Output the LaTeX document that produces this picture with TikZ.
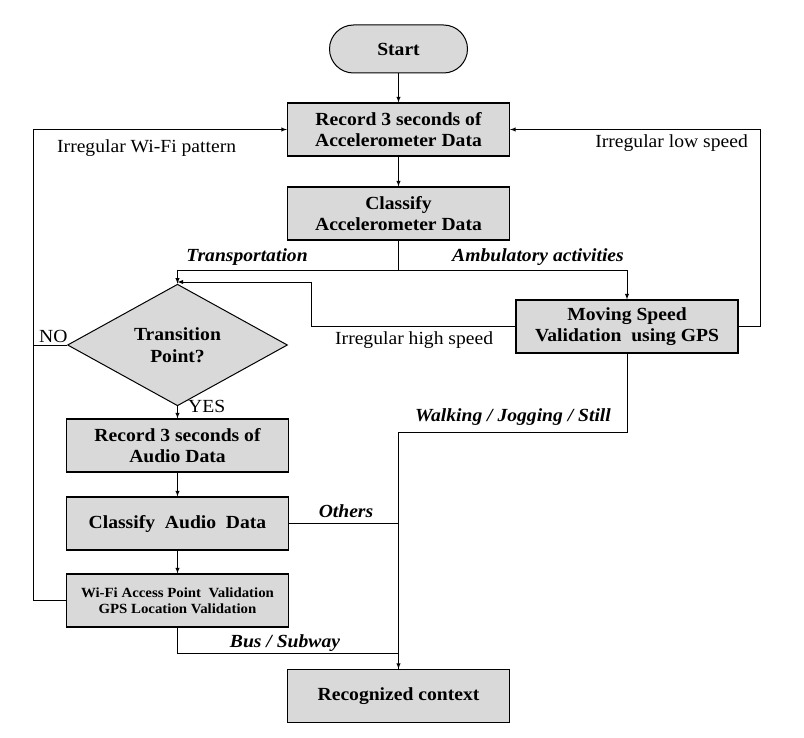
\documentclass[tikz,border=0pt]{standalone}
\usepackage{fontspec}
\setmainfont{Liberation Serif}[FakeStretch=1.06]
\usetikzlibrary{shapes.geometric,arrows}
\newcommand\BoxFont{\fontsize{18.5}{21.7}\selectfont\bfseries}
\newcommand\SmallBoxFont{\fontsize{14}{15.5}\selectfont\bfseries}
\newcommand\LabelFont{\fontsize{18.5}{21}\selectfont}
\tikzset{%
    >=latex, % option for nice arrows
    process box/.style={draw,line width=1.2pt,fill=gray!30,align=center,
        minimum width=222pt,minimum height=53pt,inner sep=0pt,font=\BoxFont},%
    start box/.style={draw,line width=1pt,fill=gray!30,rounded corners=24pt,
        minimum width=138pt,minimum height=48pt,inner sep=0pt,font=\BoxFont},%
    decision box/.style={draw,line width=1pt,fill=gray!30,diamond,align=center,
        minimum width=220pt,minimum height=88pt,inner sep=0pt,font=\BoxFont},%
    flow line/.style={line width=0.9pt},%
    plain label/.style={inner sep=0pt,font=\LabelFont},%
    branch label/.style={inner sep=0pt,font=\LabelFont\bfseries\itshape}%
}
\begin{document}
\begin{tikzpicture}[x=1pt,y=-1pt] % pixel grid, y grows downwards

    \useasboundingbox (0,0) rectangle (804,738);
    \def\colMain{398.5} % centre column
    \def\colLeft{177.5} % audio column
    \def\colRight{627} % GPS column

    % the boxes
    \node[start box] (Start) at (\colMain,49) {Start};
    \node[process box] (RecAcc) at (\colMain,129.5) {Record 3 seconds of\\Accelerometer Data};
    \node[process box] (ClsAcc) at (\colMain,213.5) {Classify\\Accelerometer Data};
    \node[process box] (Speed) at (\colRight,326.5) {Moving Speed\\Validation\ \ using GPS};
    \node[decision box] (Trans) at (\colLeft,345) {Transition\\Point?};
    \node[process box] (RecAud) at (\colLeft,445.5) {Record 3 seconds of\\Audio Data};
    \node[process box] (ClsAud) at (\colLeft,523.5) {Classify\ \ Audio\ \ Data};
    \node[process box,font=\SmallBoxFont] (WiFi) at (\colLeft,600.5) {Wi-Fi Access Point\ \ Validation\\GPS Location Validation};
    \node[process box] (Ctx) at (\colMain,696) {Recognized context};

    % helper points of the connectors
    \coordinate (split) at (\colMain,270);
    \coordinate (highspeed) at (311,282);
    \coordinate (loopL) at (33,0);

    \draw[flow line,->] (Start) -- (RecAcc);
    \draw[flow line,->] (RecAcc) -- (ClsAcc);
    \draw[flow line,->] (ClsAcc.south) -- (split) -| (Trans.north);
    \draw[flow line,->] (split) -| (Speed.north);
    \draw[flow line,->] (Speed.east) -- ++(22,0) |- (RecAcc.east);
    \draw[flow line,->] (Speed.west) -| (highspeed) -- (highspeed -| Trans.north);
    \draw[flow line,->] (WiFi.west) -- (WiFi.west -| loopL) |- (RecAcc.west);
    \draw[flow line] (Trans.west) -- (Trans.west -| loopL);
    \draw[flow line,->] (Trans.south) -- (RecAud.north);
    \draw[flow line,->] (RecAud) -- (ClsAud);
    \draw[flow line,->] (ClsAud) -- (WiFi);
    \draw[flow line] (ClsAud.east) -- (ClsAud.east -| Ctx.north);
    \draw[flow line,->] (Speed.south) -- ++(0,79) -| (Ctx.north);
    \draw[flow line] (WiFi.south) -- ++(0,26) -| (Ctx.north);

    % texts on the connectors
    \node[plain label,anchor=west] (lWiFi) at (57,148) {Irregular Wi-Fi pattern};
    \node[plain label,anchor=east] (lLow) at (748,143) {Irregular low speed};
    \node[plain label,anchor=west] (lHigh) at (335,340) {Irregular high speed};
    \node[plain label,anchor=west] (lNo) at (39,336) {NO};
    \node[plain label,anchor=west] (lYes) at (188,406) {YES};
    \node[branch label] (lTrans) at (247,257) {Transportation};
    \node[branch label] (lAmb) at (538,257) {Ambulatory activities};
    \node[branch label] (lWalk) at (513,417) {Walking / Jogging / Still};
    \node[branch label] (lOthers) at (346,511) {Others};
    \node[branch label] (lBus) at (285,643) {Bus / Subway};

\end{tikzpicture}
\end{document}
